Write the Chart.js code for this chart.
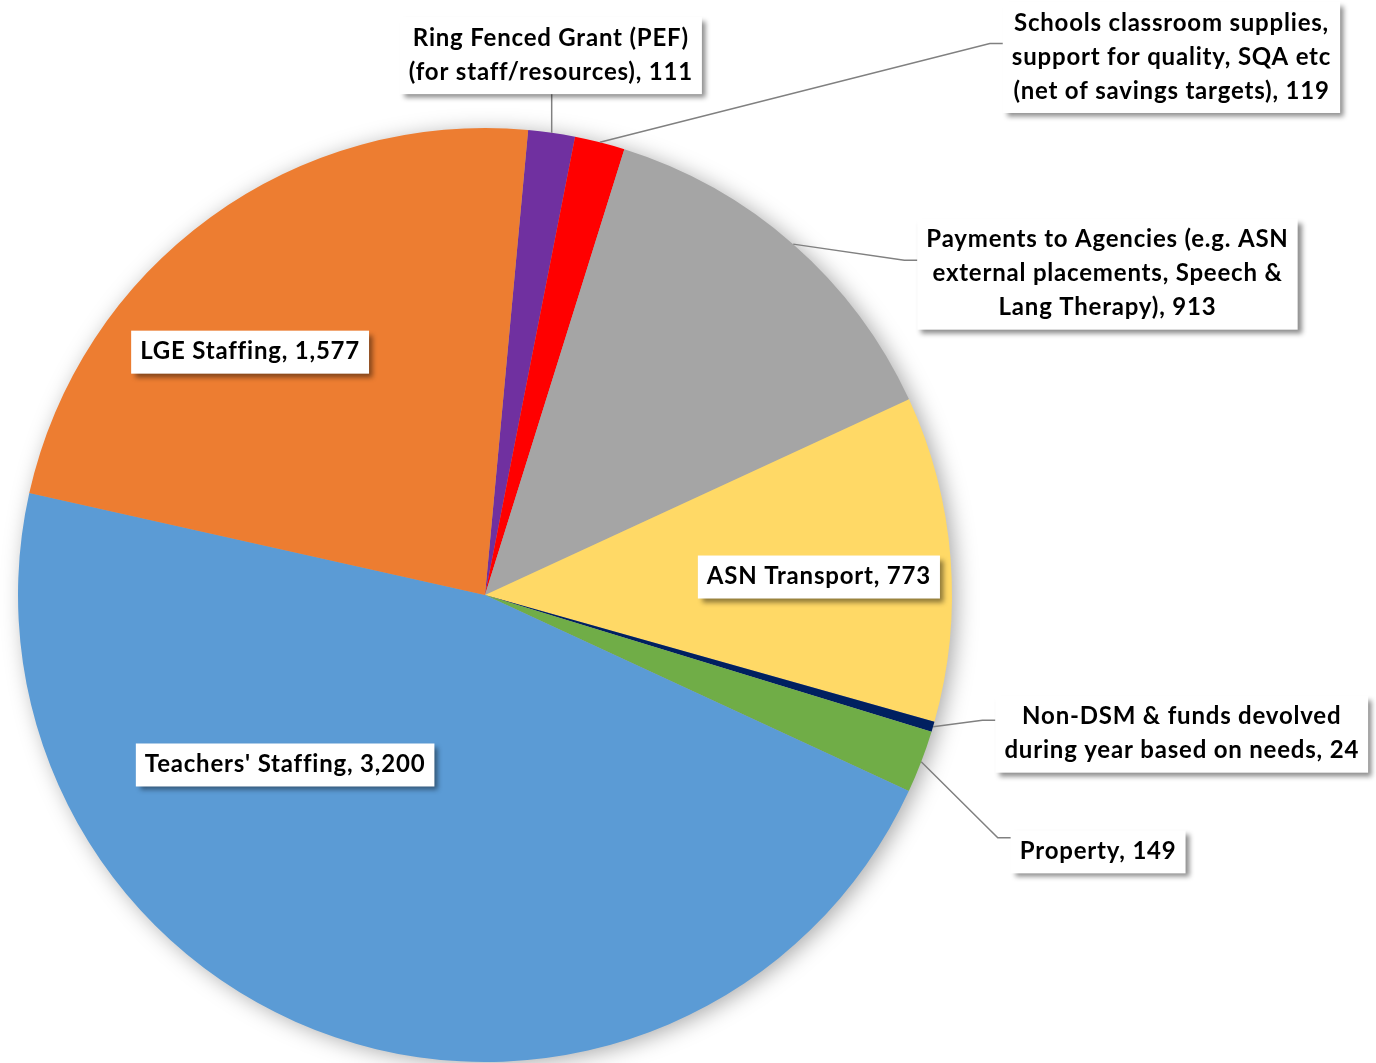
<!DOCTYPE html>
<html>
<head>
<meta charset="utf-8">
<title>Education budget breakdown</title>
<script src="https://cdn.jsdelivr.net/npm/chart.js@4.4.1/dist/chart.umd.min.js"></script>
<style>
  html, body { margin: 0; padding: 0; background: #fff; }
  #wrap { width: 1376px; height: 1063px; position: relative; }
</style>
</head>
<body>
<div id="wrap"><canvas id="canvas"></canvas></div>
<script>
const categories = [
  'Ring Fenced Grant (PEF)\n(for staff/resources)',
  'Schools classroom supplies,\nsupport for quality, SQA etc\n(net of savings targets)',
  'Payments to Agencies (e.g. ASN\nexternal placements, Speech &\nLang Therapy)',
  'ASN Transport',
  'Non-DSM & funds devolved\nduring year based on needs',
  'Property',
  "Teachers' Staffing",
  'LGE Staffing',
];
const values = [111, 119, 913, 773, 24, 149, 3200, 1577];
const sliceColors = ['#7030A0', '#FF0000', '#A5A5A5', '#FFD966', '#002060', '#70AD47', '#5B9BD5', '#ED7D31'];

// label box centres, in pie radii from the centre; leader = draw a callout line
const labelPlacement = [
  {dx: 0.141, dy: -1.155, leader: 'up'},
  {dx: 1.47, dy: -1.151, leader: 'side'},
  {dx: 1.333, dy: -0.687, leader: 'side'},
  {dx: 0.715, dy: -0.0385},
  {dx: 1.492, dy: 0.298, leader: 'side'},
  {dx: 1.313, dy: 0.55, leader: 'side'},
  {dx: -0.428, dy: 0.364},
  {dx: -0.503, dy: -0.52},
];

const FONT = 'bold 24px Lato';
const LINE_H = 34;

const pieShadow = {
  id: 'pieShadow',
  beforeDatasetsDraw(chart) {
    const arc = chart.getDatasetMeta(0).data[0];
    if (!arc) return;
    const {x, y, outerRadius} = arc.getProps(['x', 'y', 'outerRadius'], true);
    const ctx = chart.ctx;
    ctx.save();
    ctx.shadowColor = 'rgba(0,0,0,0.35)';
    ctx.shadowBlur = 22;
    ctx.shadowOffsetX = 5;
    ctx.shadowOffsetY = 3;
    ctx.fillStyle = '#A5A5A5';
    ctx.beginPath();
    ctx.arc(x, y, outerRadius - 1, 0, Math.PI * 2);
    ctx.fill();
    ctx.restore();
  },
};

const calloutLabels = {
  id: 'calloutLabels',
  afterDatasetsDraw(chart) {
    const ctx = chart.ctx;
    const meta = chart.getDatasetMeta(0);
    ctx.save();
    ctx.font = FONT;
    ctx.letterSpacing = '0.8px';
    meta.data.forEach((arc, i) => {
      const {x, y, startAngle, endAngle, outerRadius} =
        arc.getProps(['x', 'y', 'startAngle', 'endAngle', 'outerRadius'], true);
      const place = labelPlacement[i];
      const lines = (categories[i] + ', ' + values[i].toLocaleString('en-GB')).split('\n');
      const textW = Math.max(...lines.map(l => ctx.measureText(l).width));
      const boxW = textW + 18;
      const boxH = lines.length * LINE_H + 9;
      const cx = x + place.dx * outerRadius;
      const cy = y + place.dy * outerRadius;
      const left = cx - boxW / 2;
      const top = cy - boxH / 2;

      if (place.leader) {
        const mid = (startAngle + endAngle) / 2;
        const px = x + Math.cos(mid) * outerRadius;
        const py = y + Math.sin(mid) * outerRadius;
        ctx.strokeStyle = '#808080';
        ctx.lineWidth = 1.5;
        ctx.beginPath();
        ctx.moveTo(px, py);
        if (place.leader === 'up') {
          ctx.lineTo(px, top + boxH);
        } else {
          const ly = cy - 14;
          ctx.lineTo(left - 13, ly);
          ctx.lineTo(left, ly);
        }
        ctx.stroke();
      }

      ctx.save();
      ctx.shadowColor = 'rgba(0,0,0,0.45)';
      ctx.shadowBlur = 5;
      ctx.shadowOffsetX = 4;
      ctx.shadowOffsetY = 4;
      ctx.fillStyle = '#fff';
      ctx.fillRect(left, top, boxW, boxH);
      ctx.restore();

      ctx.fillStyle = '#000';
      ctx.textAlign = 'center';
      ctx.textBaseline = 'middle';
      lines.forEach((line, k) => {
        ctx.fillText(line, cx, top + 21 + k * LINE_H);
      });
    });
    ctx.restore();
  },
};

const config = {
  type: 'pie',
  data: {
    labels: categories,
    datasets: [
      {
        data: values,
        backgroundColor: sliceColors,
        borderWidth: 0,
      },
    ],
  },
  options: {
    responsive: true,
    maintainAspectRatio: false,
    animation: false,
    rotation: 5.3,
    layout: {
      padding: {left: 18, top: 128, right: 424, bottom: 1},
    },
    plugins: {
      legend: {display: false},
      tooltip: {enabled: false},
    },
  },
  plugins: [pieShadow, calloutLabels],
};

document.addEventListener('DOMContentLoaded', () => {
  const context = document.getElementById('canvas').getContext('2d');
  new Chart(context, config);
});
</script>
</body>
</html>
